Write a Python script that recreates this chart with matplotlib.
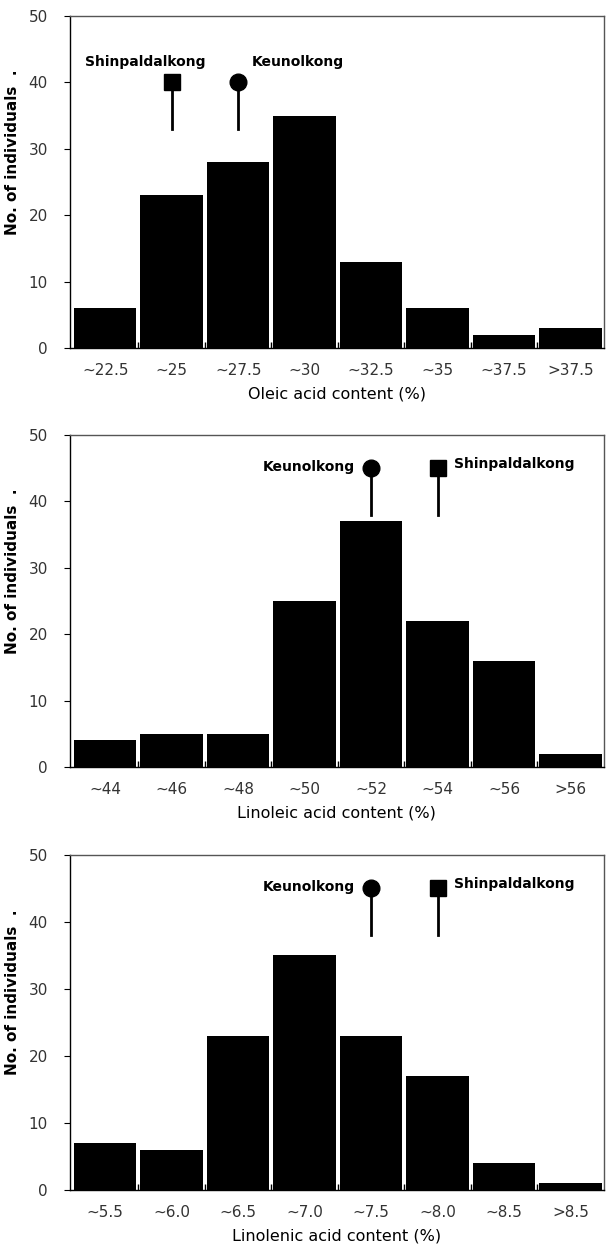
import matplotlib.pyplot as plt
import numpy as np

# Distributions of fatty acid content
oleic_labels = ['~22.5', '~25', '~27.5', '~30', '~32.5', '~35', '~37.5', '>37.5']
oleic_counts = [6, 23, 28, 35, 13, 6, 2, 3]

linoleic_labels = ['~44', '~46', '~48', '~50', '~52', '~54', '~56', '>56']
linoleic_counts = [4, 5, 5, 25, 37, 22, 16, 2]

linolenic_labels = ['~5.5', '~6.0', '~6.5', '~7.0', '~7.5', '~8.0', '~8.5', '>8.5']
linolenic_counts = [7, 6, 23, 35, 23, 17, 4, 1]

# parent positions (category index, marker value, line bottom)
oleic_parents = {'Shinpaldalkong': (1, 40, 33), 'Keunolkong': (2, 40, 33)}
linoleic_parents = {'Keunolkong': (4, 45, 38), 'Shinpaldalkong': (5, 45, 38)}
linolenic_parents = {'Keunolkong': (4, 45, 38), 'Shinpaldalkong': (5, 45, 38)}

panels = [
    (oleic_labels, oleic_counts, oleic_parents, 'Oleic acid content (%)', 'above'),
    (linoleic_labels, linoleic_counts, linoleic_parents, 'Linoleic acid content (%)', 'side'),
    (linolenic_labels, linolenic_counts, linolenic_parents, 'Linolenic acid content (%)', 'side'),
]
positions = [[0.1155, 0.7207, 0.881, 0.2665],
             [0.1155, 0.3844, 0.881, 0.2665],
             [0.1155, 0.0449, 0.881, 0.2690]]
markers = {'Shinpaldalkong': 's', 'Keunolkong': 'o'}

fig = plt.figure(figsize=(6.06, 12.46), dpi=100)

for (labels, counts, parents, xlabel, style), pos in zip(panels, positions):
    ax = fig.add_axes(pos)
    x = np.arange(len(labels))
    ax.bar(x, counts, width=0.94, color='black', edgecolor='none', zorder=2)
    ax.set_xlim(-0.53, len(labels) - 0.5)
    ax.set_ylim(0, 50)
    ax.set_yticks(range(0, 51, 10))
    ax.set_xticks(x)
    ax.set_xticklabels(labels)
    ax.set_xticks(np.arange(0.5, len(labels) - 1, 1), minor=True)
    ax.tick_params(axis='x', which='major', length=0, pad=11, labelsize=11, labelcolor='#333333')
    ax.tick_params(axis='x', which='minor', length=4, direction='in', width=1)
    ax.tick_params(axis='y', length=4, direction='out', width=0.8, pad=12, labelsize=11, labelcolor='#333333')
    for s in ax.spines.values():
        s.set_linewidth(1.0)
    ax.spines['top'].set_color('#555555')
    ax.spines['right'].set_color('#555555')
    ax.set_xlabel(xlabel, fontsize=11.5, labelpad=6)
    ax.set_ylabel('No. of individuals  .', fontsize=11, fontweight='bold')
    ax.yaxis.set_label_coords(-0.094, 0.59)

    for name, (i, top, bottom) in parents.items():
        ax.plot([i, i], [bottom, top], color='black', lw=2, zorder=3)
        ax.plot(i, top, marker=markers[name], color='black', markersize=12 if name == 'Keunolkong' else 11, zorder=4)
        if style == 'above':
            dx = -0.4 if name == 'Shinpaldalkong' else 0.9
            ax.text(i + dx, top + 3, name, ha='center', va='center', fontsize=10, fontweight='bold')
        else:
            if name == 'Keunolkong':
                ax.text(i - 0.25, top + 0.2, name, ha='right', va='center', fontsize=10, fontweight='bold')
            else:
                ax.text(i + 0.25, top + 0.6, name, ha='left', va='center', fontsize=10, fontweight='bold')

plt.savefig('out.png', dpi=100)
